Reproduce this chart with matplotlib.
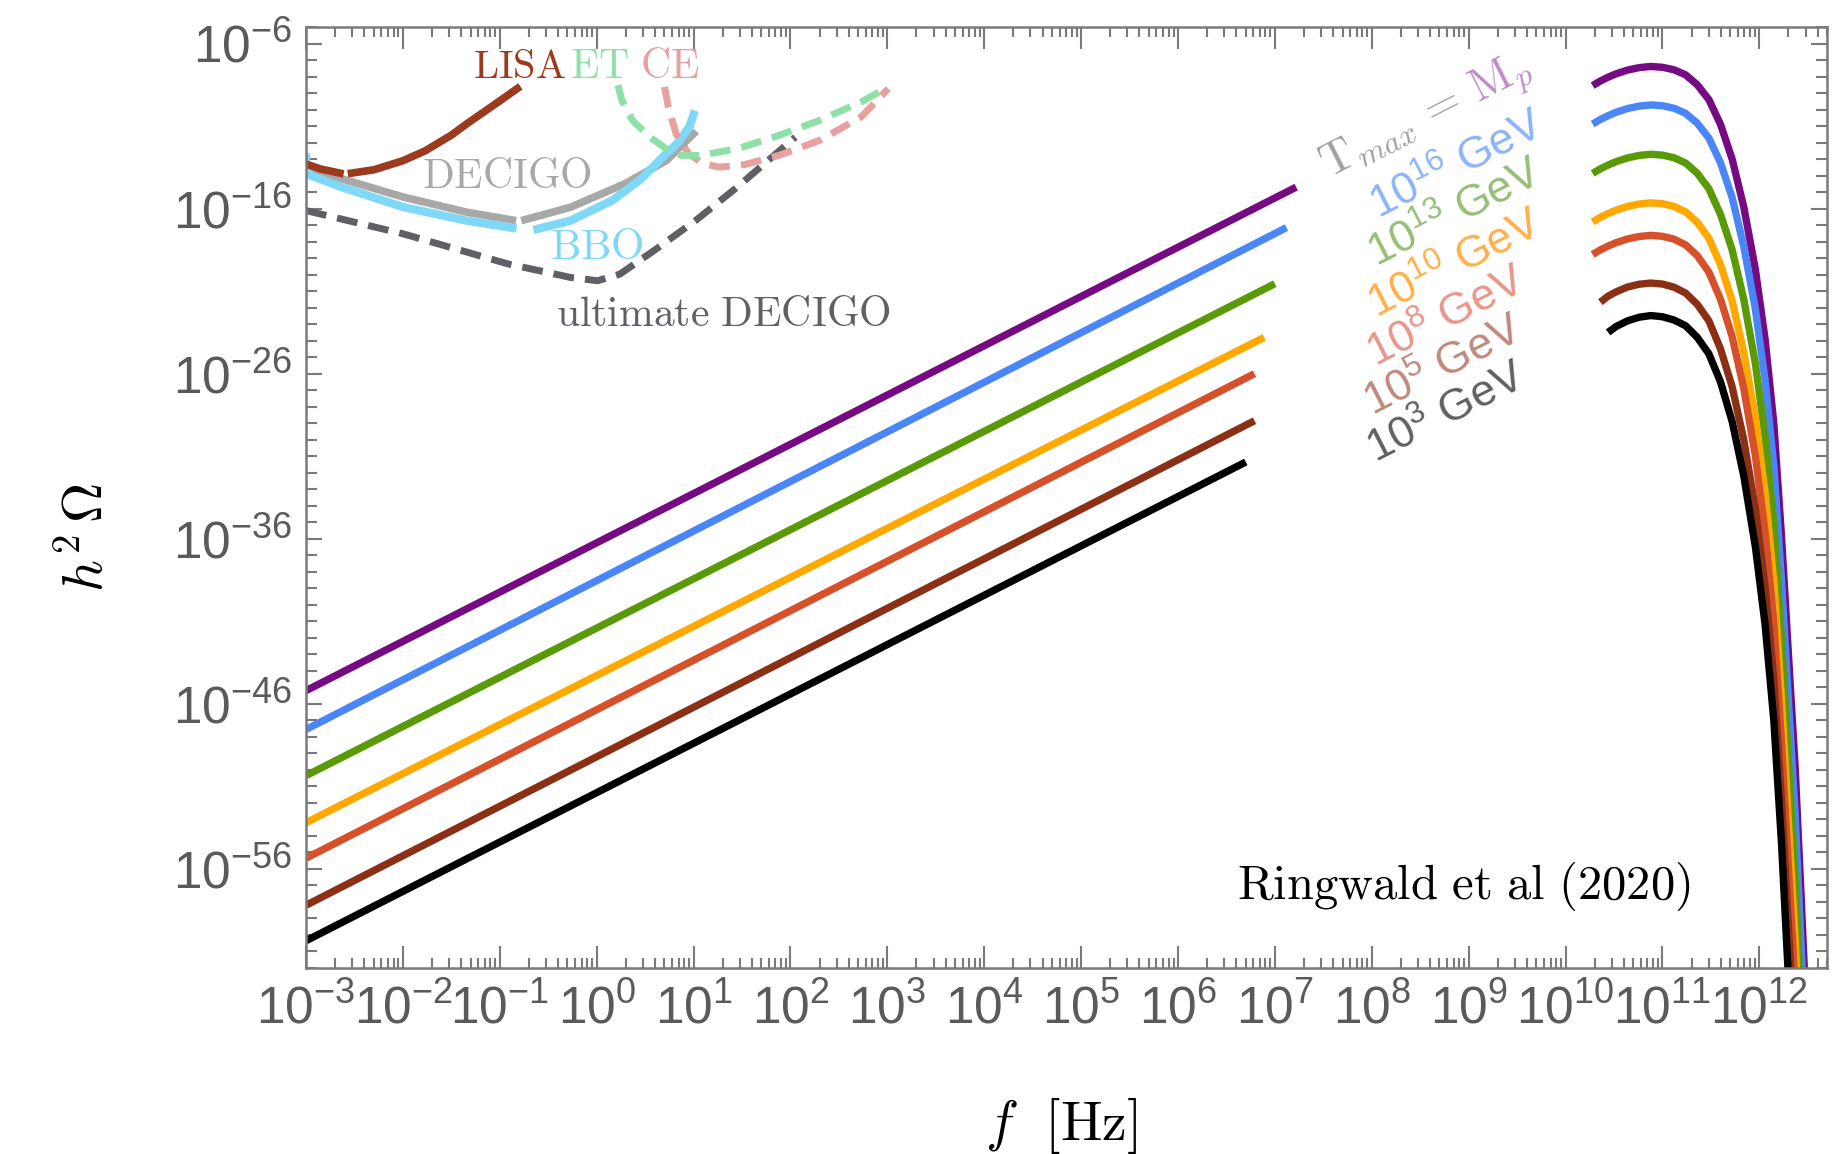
import numpy as np
import matplotlib
matplotlib.use("Agg")
import matplotlib.pyplot as plt
from matplotlib.ticker import FixedLocator, LogLocator, FuncFormatter, NullFormatter

plt.rcParams["font.family"] = ["Liberation Sans", "DejaVu Sans"]
plt.rcParams["mathtext.fontset"] = "cm"

# ---------- data (all values are log10) ----------
# low-frequency f^3 branches: start at 1e-3 Hz, end where the line stops
line_logf_start = [-3.0, -3.0, -3.0, -3.0, -3.0, -3.0, -3.0]
line_logf_end = [7.22, 7.12, 7.00, 6.89, 6.79, 6.79, 6.70]
line_logh_start = [-45.2, -47.55, -50.35, -53.2, -55.35, -58.2, -60.35]
line_logh_end = [-14.7, -17.15, -20.55, -23.8, -26.0, -28.85, -31.35]

# high-frequency bumps
bump_logf = [10.28, 10.36, 10.44, 10.52, 10.64, 10.76, 10.88, 11.00, 11.12, 11.24,
             11.36, 11.48, 11.60, 11.72, 11.84, 11.96, 12.06, 12.15, 12.23, 12.30,
             12.37, 12.43, 12.49]
nan = np.nan
bump_mp = [-8.55, -8.27, -8.04, -7.84, -7.61, -7.46, -7.39, -7.44, -7.59, -7.9,
           -8.5, -9.4, -10.9, -13.0, -15.9, -19.7, -23.9, -29.0, -35.9, -42.9,
           -49.8, -57.4, -65.4]
bump_1e16 = [-10.88, -10.6, -10.37, -10.17, -9.94, -9.79, -9.72, -9.77, -9.92, -10.23,
             -10.83, -11.73, -13.23, -15.33, -18.3, -22.1, -26.4, -31.6, -38.6, -45.7,
             -52.7, -60.4, -68.5]
bump_1e13 = [-13.87, -13.59, -13.36, -13.16, -12.93, -12.78, -12.71, -12.76, -12.92, -13.24,
             -13.86, -14.8, -16.35, -18.5, -21.5, -25.4, -29.8, -35.1, -42.2, -49.4,
             -56.5, -64.3, -72.5]
bump_1e10 = [-16.81, -16.53, -16.3, -16.1, -15.87, -15.72, -15.65, -15.7, -15.87, -16.2,
             -16.83, -17.8, -19.4, -21.6, -24.7, -28.7, -33.2, -38.6, -45.8, -53.1,
             -60.3, -68.2, -76.5]
bump_1e8 = [-18.78, -18.5, -18.27, -18.07, -17.84, -17.69, -17.62, -17.68, -17.85, -18.2,
            -18.85, -19.85, -21.5, -23.75, -26.9, -31.0, -35.6, -41.1, -48.4, -55.8,
            -63.1, -71.0, -79.0]
bump_1e5 = [nan, -21.67, -21.3, -21.05, -20.75, -20.58, -20.51, -20.57, -20.76, -21.12,
            -21.8, -22.8, -24.5, -26.8, -30.0, -34.2, -38.9, -44.5, -51.9, -59.4,
            -66.8, -75.0, -83.0]
bump_1e3 = [nan, nan, -23.5, -23.15, -22.8, -22.58, -22.48, -22.55, -22.75, -23.1,
            -23.8, -24.8, -26.5, -28.9, -32.2, -36.5, -41.2, -47.0, -54.5, -62.5,
            -70.5, -79.0, -87.0]
bumps = [bump_mp, bump_1e16, bump_1e13, bump_1e10, bump_1e8, bump_1e5, bump_1e3]

temp_colors = ["#760a82", "#4a86f8", "#5a9a08", "#ffa800", "#d6502a", "#8b3015", "#000000"]
temp_labels = [r"$\mathregular{10^{16}}$ GeV", r"$\mathregular{10^{13}}$ GeV",
               r"$\mathregular{10^{10}}$ GeV", r"$\mathregular{10^{8}}$ GeV",
               r"$\mathregular{10^{5}}$ GeV", r"$\mathregular{10^{3}}$ GeV"]
temp_label_colors = ["#8cb4f8", "#96be78", "#ffb04a", "#e8968a", "#c0897c", "#606060"]

# detector sensitivity curves
lisa_logf = [-3.0, -2.85, -2.65, nan, -2.53, -2.3, -2.0, -1.77, -1.5, -1.34, -1.04, -0.82]
lisa_logh = [-13.3, -13.6, -13.85, nan, -13.85, -13.65, -13.1, -12.5, -11.55, -10.86, -9.64, -8.73]

decigo_logf = [-3.0, -2.63, -1.99, -1.34, -0.87, nan, -0.74, -0.27, 0.29, 0.72, 1.0]
decigo_logh = [-13.7, -14.2, -15.31, -16.22, -16.69, nan, -16.67, -15.92, -14.5, -13.09, -11.47]

bbo_logf = [-3.0, -3.0, -2.95, -2.63, -1.99, -1.34, -0.87, nan, -0.61, -0.27, 0.16,
            0.46, 0.67, 0.85, 0.96, 1.0]
bbo_logh = [-12.9, -13.6, -14.0, -14.7, -15.92, -16.73, -17.17, nan, -17.23, -16.73, -15.51,
            -14.2, -12.95, -11.95, -11.0, -10.3]

et_logf = [0.22, 0.26, 0.37, 0.55, 0.72, 0.87, 1.06, 1.45, 1.88, 2.3, 2.73, 3.01]
et_logh = [-8.53, -9.44, -10.66, -11.67, -12.38, -12.78, -12.78, -12.38, -11.57, -10.66, -9.54, -8.63]

ce_logf = [0.70, 0.74, 0.82, 0.95, 1.1, 1.27, 1.53, 1.88, 2.30, 2.73, 3.01]
ce_logh = [-8.63, -9.85, -11.47, -12.68, -13.29, -13.49, -13.33, -12.78, -11.87, -10.45, -8.73]

udecigo_logf = [-3.0, -1.99, -0.91, -0.27, 0.01, 0.24, 0.59, 1.02, 1.45, 2.05]
udecigo_logh = [-16.12, -17.54, -19.36, -20.17, -20.37, -19.97, -18.55, -16.73, -14.7, -11.67]

x_major_exp = list(range(-3, 13))
y_major_exp = [-56, -46, -36, -26, -16, -6]


def p10(v):
    return 10.0 ** np.asarray(v, dtype=float)


def fmt_pow(v, pos):
    return r"$\mathregular{10^{%d}}$" % int(round(np.log10(v)))


# ---------- plot ----------
fig = plt.figure(figsize=(18.49, 11.54), dpi=100)
ax = fig.add_axes([0.1655, 0.1612, 0.8226, 0.8154])
ax.set_xscale("log")
ax.set_yscale("log")

lw = 5.3
for i in range(7):
    ax.plot(p10([line_logf_start[i], line_logf_end[i]]),
            p10([line_logh_start[i], line_logh_end[i]]),
            color=temp_colors[i], lw=lw, solid_capstyle="butt")
    ax.plot(p10(bump_logf), p10(bumps[i]), color=temp_colors[i], lw=lw,
            solid_capstyle="butt")

# detectors
dash = (3.0, 1.6)
ax.plot(p10(udecigo_logf), p10(udecigo_logh), color="#5f5f66", lw=5, dashes=dash)
ax.plot(p10(decigo_logf), p10(decigo_logh), color="#a8a8a8", lw=5.5)
ax.plot(p10(bbo_logf), p10(bbo_logh), color="#7fd8f8", lw=6)
ax.plot(p10(ce_logf), p10(ce_logh), color="#e8a0a0", lw=5, dashes=dash)
ax.plot(p10(et_logf), p10(et_logh), color="#8ee0a8", lw=5, dashes=dash)
ax.plot(p10(lisa_logf), p10(lisa_logh), color="#9b3a1c", lw=5.5)

# detector labels
det_fs = 30
ax.text(p10(-0.80), p10(-7.42), r"$\mathrm{LISA}$", color="#9b3a1c", fontsize=det_fs - 1,
        ha="center", va="center")
ax.text(p10(0.03), p10(-7.42), r"$\mathrm{ET}$", color="#8ee0a8", fontsize=det_fs,
        ha="center", va="center")
ax.text(p10(0.75), p10(-7.42), r"$\mathrm{CE}$", color="#e8a0a0", fontsize=det_fs,
        ha="center", va="center")
ax.text(p10(-0.93), p10(-14.09), r"$\mathrm{DECIGO}$", color="#a8a8a8", fontsize=det_fs,
        ha="center", va="center")
ax.text(p10(0.0), p10(-18.39), r"$\mathrm{BBO}$", color="#7fd8f8", fontsize=det_fs + 1,
        ha="center", va="center")
ax.text(p10(1.31), p10(-22.45), r"$\mathrm{ultimate\ DECIGO}$", color="#5f5f66",
        fontsize=det_fs, ha="center", va="center")

ax.text(p10(8.95), p10(-57.06), r"$\mathrm{Ringwald\ et\ al\ (2020)}$", color="black",
        fontsize=35, ha="center", va="center")

# rotated temperature labels
rot = 27
lab_x = [8.88, 8.86, 8.86, 8.77, 8.74, 8.77]
lab_y = [-13.4, -16.3, -19.4, -22.6, -25.6, -28.45]
for i in range(6):
    ax.text(p10(lab_x[i]), p10(lab_y[i]), temp_labels[i], color=temp_label_colors[i],
            fontsize=32, rotation=rot, rotation_mode="anchor", ha="center", va="center")
ax.text(p10(8.95), p10(-10.03), r"$\mathrm{T}_{max}\,=$", color="#a0a0a0", fontsize=33,
        rotation=rot, rotation_mode="anchor", ha="right", va="baseline")
ax.text(p10(9.10), p10(-9.58), r"$\mathrm{M}_p$", color="#c08ac8", fontsize=33,
        rotation=rot, rotation_mode="anchor", ha="left", va="baseline")

# ---------- axes ----------
ax.set_xlim(1e-3, 5e12)
ax.set_ylim(1e-62, 1e-5)

ax.xaxis.set_major_locator(FixedLocator(p10(x_major_exp)))
ax.xaxis.set_minor_locator(LogLocator(base=10.0, subs=np.arange(2, 10), numticks=200))
ax.yaxis.set_major_locator(FixedLocator(p10(y_major_exp)))
ax.yaxis.set_minor_locator(FixedLocator(p10(list(range(-62, -4)))))
ax.xaxis.set_major_formatter(FuncFormatter(fmt_pow))
ax.yaxis.set_major_formatter(FuncFormatter(fmt_pow))
ax.xaxis.set_minor_formatter(NullFormatter())
ax.yaxis.set_minor_formatter(NullFormatter())

spine_col = "#7a7a7a"
for sp in ax.spines.values():
    sp.set_color(spine_col)
    sp.set_linewidth(1.8)
ax.tick_params(which="both", direction="in", top=True, right=True, color=spine_col,
               width=1.5, labelcolor="#5a5a5a", labelsize=37)
ax.tick_params(axis="x", which="major", length=16, pad=12)
ax.tick_params(axis="x", which="minor", length=7.5)
ax.tick_params(axis="y", which="major", length=11.5, pad=10)
ax.tick_params(axis="y", which="minor", length=8)

fig.text(88 / 1849, 1 - 537 / 1154, r"$h^2\,\Omega$", rotation=90, fontsize=40,
         ha="center", va="center")
fig.text(1061 / 1849, 1 - 1126 / 1154, r"$f\ \ [\mathrm{Hz}]$", fontsize=40,
         ha="center", va="center")

fig.savefig("out.png", dpi=100)
